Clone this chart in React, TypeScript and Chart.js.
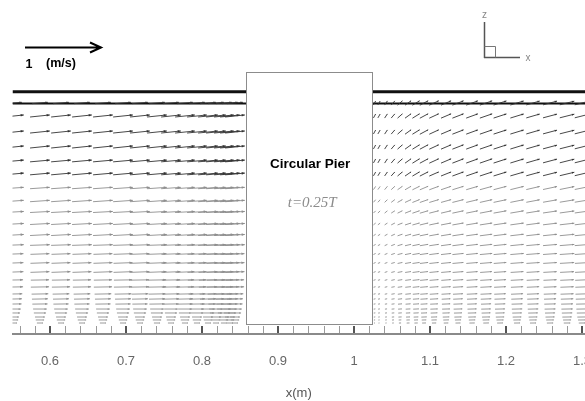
import { useEffect, useRef } from "react";
import { Chart, registerables } from "chart.js";

Chart.register(...registerables);

// ---- data (x, z in m; u, w in m/s) ----
const rowZ = [0.2908, 0.2737, 0.2526, 0.2329, 0.2145, 0.1974, 0.1789, 0.1618, 0.1474, 0.1316, 0.1171, 0.1039, 0.0921, 0.0803, 0.0684, 0.0579, 0.0487, 0.0395, 0.0329, 0.0263, 0.0197, 0.0145, 0.0092, 0.0053, 0.0013];

const upstreamX = [0.5526, 0.5868, 0.6145, 0.6421, 0.6697, 0.6961, 0.7184, 0.7408, 0.7592, 0.7776, 0.7934, 0.8079, 0.8184, 0.8289, 0.8368, 0.8434];
const upstreamU = [0.21, 0.26, 0.26, 0.26, 0.26, 0.26, 0.26, 0.26, 0.26, 0.26, 0.26, 0.26, 0.25, 0.25, 0.25, 0.24, 0.24, 0.22, 0.21, 0.2, 0.18, 0.16, 0.13, 0.11, 0.08];
const upstreamW = [0.018, 0.027, 0.027, 0.027, 0.023, 0.023, 0.018, 0.018, 0.014, 0.014, 0.014, 0.009, 0.009, 0.009, 0.009, 0.004, 0.004, 0.004, 0.004, 0.003, 0, 0, 0, 0, 0];

const downstreamX = [1.027, 1.0329, 1.0421, 1.0513, 1.0605, 1.0711, 1.0816, 1.0921, 1.1053, 1.1211, 1.1368, 1.1553, 1.1737, 1.1921, 1.2145, 1.2355, 1.2579, 1.2803, 1.3];
const downstreamU = [0.028, 0.03, 0.036, 0.047, 0.064, 0.08, 0.095, 0.11, 0.125, 0.133, 0.147, 0.154, 0.162, 0.169, 0.176, 0.177, 0.184, 0.191, 0.191];
const downstreamW = [0.052, 0.051, 0.055, 0.055, 0.057, 0.058, 0.059, 0.059, 0.058, 0.057, 0.057, 0.056, 0.056, 0.055, 0.054, 0.051, 0.049, 0.048, 0.048];
const downRowU = [1, 1, 1, 1, 1, 1, 1, 1, 1, 1, 1, 1, 1, 0.98, 0.96, 0.94, 0.92, 0.9, 0.86, 0.82, 0.78, 0.72, 0.65, 0.55, 0.45];
const downRowW = [1, 1, 1, 1, 1, 0.95, 0.8, 0.65, 0.55, 0.45, 0.38, 0.32, 0.27, 0.23, 0.2, 0.17, 0.14, 0.12, 0.1, 0.08, 0.06, 0.05, 0.04, 0.03, 0.02];

const tickValues = [0.56, 0.58, 0.6, 0.62, 0.64, 0.66, 0.68, 0.7, 0.72, 0.74, 0.76, 0.78, 0.8, 0.82, 0.84, 0.86, 0.88, 0.9, 0.92, 0.94, 0.96, 0.98, 1.0, 1.02, 1.04, 1.06, 1.08, 1.1, 1.12, 1.14, 1.16, 1.18, 1.2, 1.22, 1.24, 1.26, 1.28, 1.3];
const majorTicks = [0.6, 0.7, 0.8, 0.9, 1.0, 1.1, 1.2, 1.3];
const tickLabels = ["0.6", "0.7", "0.8", "0.9", "1", "1.1", "1.2", "1.3"];

const pierX = [0.858, 1.024];
const pierTopZ = 0.3316;
const bedZ = 0;
const surfaceZ = 0.2901;
const lidZ = 0.3057;
const refSpeed = 1; // m/s

const X_MIN = 0.5507;
const X_MAX = 1.3039;
const Z_MIN = -0.01316;
const Z_MAX = 0.4263;
const VEC_SCALE = 0.1; // m of plot per m/s

type Vec = { x: number; y: number; u: number; w: number };
const vectors: Vec[] = [];
rowZ.forEach((z, r) => {
  upstreamX.forEach((x) => vectors.push({ x, y: z, u: upstreamU[r], w: upstreamW[r] }));
  downstreamX.forEach((x, c) =>
    vectors.push({ x, y: z, u: downstreamU[c] * downRowU[r], w: downstreamW[c] * downRowW[r] })
  );
});

const isMajor = (v: number) => majorTicks.findIndex((m) => Math.abs(m - v) < 1e-6);

const fieldPlugin = {
  id: "fieldPlugin",
  afterDatasetsDraw(chart: any) {
    const ctx: CanvasRenderingContext2D = chart.ctx;
    const xs = chart.scales.x;
    const ys = chart.scales.y;
    const area = chart.chartArea;
    const ds = chart.data.datasets[2];
    const data = ds.data as Vec[];

    // vector arrows
    ctx.save();
    ctx.beginPath();
    ctx.rect(area.left, area.top, area.right - area.left, area.bottom - area.top);
    ctx.clip();
    data.forEach((v) => {
      const x0 = xs.getPixelForValue(v.x - (v.u * VEC_SCALE) / 2);
      const y0 = ys.getPixelForValue(v.y - (v.w * VEC_SCALE) / 2);
      const x1 = xs.getPixelForValue(v.x + (v.u * VEC_SCALE) / 2);
      const y1 = ys.getPixelForValue(v.y + (v.w * VEC_SCALE) / 2);
      const dx = x1 - x0;
      const dy = y1 - y0;
      const L = Math.hypot(dx, dy);
      if (L < 0.3) return;
      const col = v.y >= 0.19 ? "#333333" : "#8e8e8e";
      ctx.strokeStyle = col;
      ctx.fillStyle = col;
      ctx.lineWidth = 0.9;
      ctx.beginPath();
      ctx.moveTo(x0, y0);
      ctx.lineTo(x1, y1);
      ctx.stroke();
      const ux = dx / L;
      const uy = dy / L;
      const hl = L * 0.16;
      const hw = L * 0.065;
      const bx = x1 - ux * hl;
      const by = y1 - uy * hl;
      ctx.beginPath();
      ctx.moveTo(x1, y1);
      ctx.lineTo(bx - uy * hw, by + ux * hw);
      ctx.lineTo(bx + uy * hw, by - ux * hw);
      ctx.closePath();
      ctx.fill();
    });
    ctx.restore();

    // pier
    const pl = xs.getPixelForValue(pierX[0]);
    const pr = xs.getPixelForValue(pierX[1]);
    const pt = ys.getPixelForValue(pierTopZ);
    const pb = ys.getPixelForValue(bedZ);
    ctx.save();
    ctx.fillStyle = "#ffffff";
    ctx.fillRect(pl, pt, pr - pl, pb - pt);
    ctx.strokeStyle = "#8c8c8c";
    ctx.lineWidth = 1;
    ctx.strokeRect(Math.round(pl) + 0.5, Math.round(pt) + 0.5, Math.round(pr - pl), Math.round(pb - pt));
    const pc = (pl + pr) / 2;
    ctx.fillStyle = "#000";
    ctx.font = "bold 13.5px 'Liberation Sans', Arial, sans-serif";
    ctx.textAlign = "center";
    ctx.textBaseline = "alphabetic";
    ctx.fillText("Circular Pier", pc + 1, ys.getPixelForValue(0.2055));
    ctx.fillStyle = "#8c8c8c";
    ctx.font = "italic 15px 'Liberation Serif', 'Times New Roman', serif";
    ctx.fillText("t=0.25T", pc + 3, ys.getPixelForValue(0.1545));
    ctx.restore();

    // x-axis tick marks (inward)
    ctx.save();
    xs.ticks.forEach((t: any) => {
      const px = Math.round(xs.getPixelForValue(t.value));
      const major = isMajor(t.value) >= 0;
      ctx.strokeStyle = major ? "#555555" : "#9a9a9a";
      ctx.lineWidth = major ? 2 : 1;
      ctx.beginPath();
      const xx = major ? px : px + 0.5;
      ctx.moveTo(xx, area.bottom - 8);
      ctx.lineTo(xx, area.bottom - 1);
      ctx.stroke();
    });
    ctx.restore();

    // reference arrow
    ctx.save();
    const rx0 = 25;
    const rlen = xs.getPixelForValue(X_MIN + refSpeed * VEC_SCALE) - xs.getPixelForValue(X_MIN);
    const rx1 = rx0 + rlen;
    const ry = 47.5;
    ctx.strokeStyle = "#000";
    ctx.lineWidth = 2;
    ctx.beginPath();
    ctx.moveTo(rx0, ry);
    ctx.lineTo(rx1, ry);
    ctx.moveTo(rx1 - 11, ry - 5);
    ctx.lineTo(rx1, ry);
    ctx.lineTo(rx1 - 11, ry + 5);
    ctx.stroke();
    ctx.fillStyle = "#000";
    ctx.font = "bold 12.5px 'Liberation Sans', Arial, sans-serif";
    ctx.textAlign = "left";
    ctx.textBaseline = "alphabetic";
    ctx.fillText("1", 25.5, 68);
    ctx.fillText("(m/s)", 46, 67);
    ctx.restore();

    // coordinate glyph
    ctx.save();
    ctx.strokeStyle = "#555";
    ctx.lineWidth = 1.5;
    ctx.beginPath();
    ctx.moveTo(484.5, 22);
    ctx.lineTo(484.5, 58);
    ctx.moveTo(484, 57.5);
    ctx.lineTo(520, 57.5);
    ctx.stroke();
    ctx.strokeStyle = "#777";
    ctx.lineWidth = 1;
    ctx.beginPath();
    ctx.moveTo(484.5, 46.5);
    ctx.lineTo(495.5, 46.5);
    ctx.lineTo(495.5, 57.5);
    ctx.stroke();
    ctx.fillStyle = "#888";
    ctx.font = "10px 'Liberation Sans', Arial, sans-serif";
    ctx.textAlign = "center";
    ctx.fillText("z", 484.5, 17.5);
    ctx.fillText("x", 528, 61);
    ctx.restore();
  },
};

export default function App() {
  const ref = useRef<HTMLCanvasElement | null>(null);
  useEffect(() => {
    if (!ref.current) return;
    const chart = new Chart(ref.current, {
      type: "scatter",
      data: {
        datasets: [
          {
            type: "line",
            label: "lid",
            data: [
              { x: X_MIN, y: lidZ },
              { x: X_MAX, y: lidZ },
            ],
            borderColor: "#111111",
            borderWidth: 3,
            pointRadius: 0,
          },
          {
            type: "line",
            label: "surface",
            data: [
              { x: X_MIN, y: surfaceZ },
              { x: X_MAX, y: surfaceZ },
            ],
            borderColor: "#111111",
            borderWidth: 2,
            pointRadius: 0,
          },
          {
            type: "scatter",
            label: "velocity",
            data: vectors as any,
            pointRadius: 0,
            pointHoverRadius: 0,
          },
        ],
      },
      options: {
        responsive: false,
        animation: false,
        devicePixelRatio: 1,
        events: [],
        layout: { padding: { left: 12.5, right: 0, top: 0, bottom: 0 }, autoPadding: false } as any,
        plugins: { legend: { display: false }, tooltip: { enabled: false }, title: { display: false } },
        scales: {
          x: {
            type: "linear",
            min: X_MIN,
            max: X_MAX,
            afterBuildTicks: (s: any) => {
              s.ticks = tickValues.map((v) => ({ value: v }));
            },
            afterFit: (s: any) => {
              s.height = 67;
              s.paddingLeft = 0;
              s.paddingRight = 0;
              s.paddingTop = 0;
              s.paddingBottom = 0;
            },
            ticks: {
              autoSkip: false,
              maxRotation: 0,
              minRotation: 0,
              padding: 20,
              color: "#666666",
              font: { family: "'Liberation Sans', Arial, sans-serif", size: 13 },
              callback: (v: any) => {
                const i = isMajor(Number(v));
                return i >= 0 ? tickLabels[i] : "";
              },
            },
            grid: { display: false, drawTicks: false },
            border: { display: true, color: "#8a8a8a", width: 2 },
            title: {
              display: true,
              text: "x(m)",
              color: "#555555",
              font: { family: "'Liberation Sans', Arial, sans-serif", size: 13 },
              padding: { top: 15.8, bottom: 0 },
            },
          },
          y: { type: "linear", display: false, min: Z_MIN, max: Z_MAX },
        },
      },
      plugins: [fieldPlugin],
    });
    return () => chart.destroy();
  }, []);
  return (
    <div style={{ position: "absolute", left: 0, top: 0, width: 585, height: 401, background: "#fff" }}>
      <canvas ref={ref} width={585} height={401} />
    </div>
  );
}
